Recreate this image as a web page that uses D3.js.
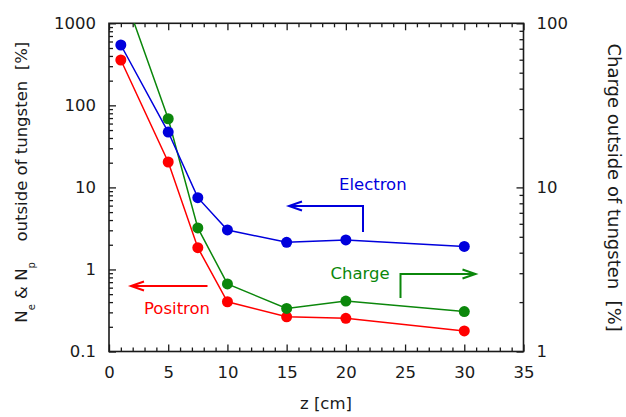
<!DOCTYPE html>
<html>
<head>
<meta charset="utf-8">
<script src="https://cdn.jsdelivr.net/npm/d3@7"></script>
<style>
  html, body { margin: 0; padding: 0; background: #fff; }
  svg { display: block; font-family: "DejaVu Sans", sans-serif; }
</style>
</head>
<body>
<svg id="chart" width="626" height="417"></svg>
<script>
// Depth along the shower (cm)
const zElectron = [1, 5, 7.5, 10, 15, 20, 30];
const zPositron = [1, 5, 7.5, 10, 15, 20, 30];
const zCharge   = [1, 5, 7.5, 10, 15, 20, 30];

// Electron and positron numbers outside of tungsten (%), left axis
const electron = [544, 47.3, 7.5, 3.03, 2.14, 2.29, 1.91];
const positron = [357, 20.4, 1.84, 0.404, 0.265, 0.254, 0.178];
// Net charge outside of tungsten (%), right axis
const charge   = [170, 26.2, 5.66, 2.58, 1.83, 2.03, 1.75];

// Axis ticks
const xMajor = [0, 5, 10, 15, 20, 25, 30, 35];
const xLabels = ["0", "5", "10", "15", "20", "25", "30", "35"];
const yLeftMajor = [0.1, 1, 10, 100, 1000];
const yLeftLabels = ["0.1", "1", "10", "100", "1000"];
const yRightMajor = [1, 10, 100];
const yRightLabels = ["1", "10", "100"];

const svg = d3.select("#chart");
const L = 109, R = 523.5, T = 23.3, B = 351.5;

const x = d3.scaleLinear().domain([0, 35]).range([L, R]);
const yL = d3.scaleLog().domain([0.1, 1000]).range([B, T]);
const yR = d3.scaleLog().domain([1, 100]).range([B, T]);

const ink = "#1a1a1a";
const fs = 16.5;

function logMinors(lo, hi) {
  const out = [];
  for (let d = lo; d < hi; d *= 10) for (let k = 2; k <= 9; k++) out.push(d * k);
  return out;
}
const xMinor = d3.range(0, 36, 1).filter(v => v % 5 !== 0);

function styleAxis(g) {
  g.select(".domain").remove();
  g.selectAll(".tick line").attr("stroke", ink).attr("stroke-width", 1.3);
  g.selectAll("text").attr("font-size", fs).attr("fill", ink)
    .attr("font-family", "DejaVu Sans, sans-serif");
}

// bottom axis
svg.append("g").attr("transform", `translate(0,${B})`)
  .call(d3.axisBottom(x).tickValues(xMajor).tickSize(-7).tickPadding(15)
    .tickFormat((d, i) => xLabels[i]))
  .call(styleAxis);
svg.append("g").attr("transform", `translate(0,${B})`)
  .call(d3.axisBottom(x).tickValues(xMinor).tickSize(-4).tickFormat(""))
  .call(styleAxis);
// top axis (mirror ticks)
svg.append("g").attr("transform", `translate(0,${T})`)
  .call(d3.axisTop(x).tickValues(xMajor).tickSize(-7).tickFormat(""))
  .call(styleAxis);
svg.append("g").attr("transform", `translate(0,${T})`)
  .call(d3.axisTop(x).tickValues(xMinor).tickSize(-4).tickFormat(""))
  .call(styleAxis);
// left axis
svg.append("g").attr("transform", `translate(${L},0)`)
  .call(d3.axisLeft(yL).tickValues(yLeftMajor).tickSize(-7).tickPadding(13)
    .tickFormat((d, i) => yLeftLabels[i]))
  .call(styleAxis);
svg.append("g").attr("transform", `translate(${L},0)`)
  .call(d3.axisLeft(yL).tickValues(logMinors(0.1, 1000)).tickSize(-4).tickFormat(""))
  .call(styleAxis);
// right axis
svg.append("g").attr("transform", `translate(${R},0)`)
  .call(d3.axisRight(yR).tickValues(yRightMajor).tickSize(-7).tickPadding(13)
    .tickFormat((d, i) => yRightLabels[i]))
  .call(styleAxis);
svg.append("g").attr("transform", `translate(${R},0)`)
  .call(d3.axisRight(yR).tickValues(logMinors(1, 100)).tickSize(-4).tickFormat(""))
  .call(styleAxis);

// frame
svg.append("rect").attr("x", L).attr("y", T).attr("width", R - L).attr("height", B - T)
  .attr("fill", "none").attr("stroke", ink).attr("stroke-width", 1.6);

// data
svg.append("clipPath").attr("id", "plotArea")
  .append("rect").attr("x", L).attr("y", T).attr("width", R - L).attr("height", B - T);
const plot = svg.append("g").attr("clip-path", "url(#plotArea)");

const series = [
  { z: zPositron, v: positron, y: yL, color: "#ff0000" },
  { z: zCharge,   v: charge,   y: yR, color: "#0b870b" },
  { z: zElectron, v: electron, y: yL, color: "#0000dc" }
];
series.forEach(s => {
  const pts = s.z.map((z, i) => [x(z), s.y(s.v[i])]);
  plot.append("path").attr("d", d3.line()(pts))
    .attr("fill", "none").attr("stroke", s.color).attr("stroke-width", 1.5);
  plot.selectAll(null).data(pts).enter().append("circle")
    .attr("cx", d => d[0]).attr("cy", d => d[1]).attr("r", 5.5)
    .attr("fill", s.color);
});

// annotation arrows
function arrow(pathPts, color) {
  svg.append("path").attr("d", d3.line()(pathPts))
    .attr("fill", "none").attr("stroke", color).attr("stroke-width", 2);
  const [tx, ty] = pathPts[pathPts.length - 1];
  const [px, py] = pathPts[pathPts.length - 2];
  const ang = Math.atan2(ty - py, tx - px);
  const len = 13, half = 4.5;
  const back = [tx - len * Math.cos(ang), ty - len * Math.sin(ang)];
  const nx = -Math.sin(ang), ny = Math.cos(ang);
  svg.append("path")
    .attr("d", d3.line()([[back[0] + nx * half, back[1] + ny * half], [tx, ty],
                          [back[0] - nx * half, back[1] - ny * half]]))
    .attr("fill", "none").attr("stroke", color).attr("stroke-width", 2);
}
arrow([[363, 232], [363, 206], [289, 206]], "#0000dc");
arrow([[400.5, 298], [400.5, 274], [475.5, 274]], "#0b870b");
arrow([[207.5, 286], [131, 286]], "#ff0000");

function label(txt, xPos, yPos, color) {
  svg.append("text").attr("x", xPos).attr("y", yPos).text(txt)
    .attr("font-size", fs).attr("fill", color);
}
label("Electron", 339, 189.5, "#0000dc");
label("Charge", 330.5, 279, "#0b870b");
label("Positron", 144, 313.5, "#ff0000");

// axis titles
svg.append("text").attr("x", 326).attr("y", 409).attr("text-anchor", "middle")
  .attr("font-size", fs).attr("fill", ink).text("z [cm]");

// left title: particle symbols with subscripts, then the description
const lt = svg.append("text").attr("transform", "translate(27,322.7) rotate(-90)")
  .attr("font-size", fs).attr("fill", ink).attr("xml:space", "preserve");
lt.append("tspan").text("N");
lt.append("tspan").attr("font-size", 10).attr("dy", 7.5).text("e");
lt.append("tspan").attr("dy", -7.5).text(" & N");
lt.append("tspan").attr("font-size", 10).attr("dy", 7.5).text("p");
svg.append("text").attr("transform", "translate(27,41.7) rotate(-90)")
  .attr("text-anchor", "end").attr("font-size", fs).attr("fill", ink)
  .attr("xml:space", "preserve").text("outside of tungsten  [%]");

svg.append("text").attr("transform", "translate(607.5,43.5) rotate(90)")
  .attr("font-size", 18).attr("fill", ink).attr("xml:space", "preserve")
  .text("Charge outside of tungsten  [%]");
</script>
</body>
</html>
